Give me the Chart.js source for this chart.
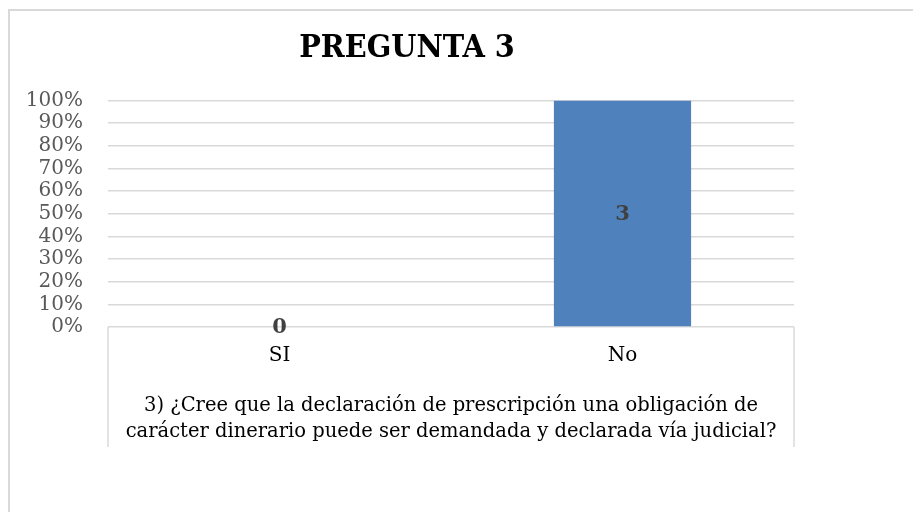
<!DOCTYPE html>
<html>
<head>
<meta charset="utf-8">
<script src="https://cdn.jsdelivr.net/npm/chart.js@4/dist/chart.umd.min.js"></script>
<style>
  html, body { margin: 0; padding: 0; background: #fff; }
  #wrap { position: relative; width: 913px; height: 512px; }
</style>
</head>
<body>
<div id="wrap"><canvas id="chart"></canvas></div>
<script>
// data
const categories = ['SI', 'No'];
const counts = [0, 3];          // labels shown on the bars
const shares = [0, 1];          // bar heights (0..1 = 0%..100%)
const chartTitle = 'PREGUNTA 3';
const axisTitle = [
    '3) ¿Cree que la declaración de prescripción una obligación de',
    'carácter dinerario puede ser demandada y declarada vía judicial?'
];

const SERIF = "'DejaVu Serif', 'Liberation Serif', serif";
const SERIF_C = "'DejaVu Serif Condensed', 'DejaVu Serif', serif";

// outer frame + category box under the plot
const framePlugin = {
    id: 'frame',
    beforeDraw(chart) {
        const ctx = chart.ctx;
        ctx.save();
        ctx.strokeStyle = '#d9d9d9';
        ctx.lineWidth = 2;
        ctx.beginPath();
        ctx.moveTo(9, 512);
        ctx.lineTo(9, 10);
        ctx.lineTo(913, 10);
        ctx.stroke();
        ctx.restore();
    },
    afterDraw(chart) {
        const {ctx, chartArea, scales} = chart;
        ctx.save();
        ctx.strokeStyle = '#d9d9d9';
        ctx.lineWidth = 1.5;
        ctx.beginPath();
        ctx.moveTo(chartArea.left, chartArea.bottom);
        ctx.lineTo(chartArea.left, scales.x.bottom);
        ctx.moveTo(chartArea.right, chartArea.bottom);
        ctx.lineTo(chartArea.right, scales.x.bottom);
        ctx.stroke();
        ctx.restore();
    }
};

// count labels in the middle of each bar
const countLabels = {
    id: 'countLabels',
    afterDatasetsDraw(chart) {
        const ctx = chart.ctx;
        const meta = chart.getDatasetMeta(0);
        ctx.save();
        ctx.font = 'bold 21px ' + SERIF;
        ctx.fillStyle = '#404040';
        ctx.textAlign = 'center';
        ctx.textBaseline = 'middle';
        meta.data.forEach((bar, i) => {
            const y = (bar.y + bar.base) / 2;
            ctx.fillText(String(counts[i]), bar.x, y + 1);
        });
        ctx.restore();
    }
};

new Chart(document.getElementById('chart'), {
    type: 'bar',
    data: {
        labels: categories,
        datasets: [{
            data: shares,
            backgroundColor: '#4F81BD',
            borderWidth: 0,
            categoryPercentage: 1,
            barPercentage: 0.4
        }]
    },
    options: {
        responsive: true,
        maintainAspectRatio: false,
        animation: false,
        layout: { padding: { left: 20, right: 119, top: 10, bottom: 65 } },
        plugins: {
            legend: { display: false },
            tooltip: { enabled: false },
            title: {
                display: true,
                text: chartTitle,
                color: '#000',
                font: { family: SERIF_C, size: 32, weight: 'bold', lineHeight: 1.2 },
                padding: { top: 19, bottom: 33 }
            }
        },
        scales: {
            y: {
                min: 0,
                max: 1,
                afterFit(scale) { scale.width = 88; },
                ticks: {
                    stepSize: 0.1,
                    autoSkip: false,
                    padding: 25,
                    color: '#595959',
                    font: { family: SERIF, size: 20, lineHeight: 1 },
                    callback: v => Math.round(v * 100) + '%'
                },
                grid: { color: '#d9d9d9', lineWidth: 1.5, drawTicks: false },
                border: { display: false }
            },
            x: {
                afterFit(scale) { scale.height = 120; },
                ticks: {
                    padding: 17,
                    color: '#000',
                    font: { family: SERIF, size: 20 }
                },
                grid: { display: false, drawTicks: false },
                border: { display: false },
                title: {
                    display: true,
                    text: axisTitle,
                    color: '#000',
                    font: { family: SERIF, size: 19.5, lineHeight: 1.33 },
                    padding: { top: 0, bottom: 2 }
                }
            }
        }
    },
    plugins: [framePlugin, countLabels]
});
</script>
</body>
</html>
